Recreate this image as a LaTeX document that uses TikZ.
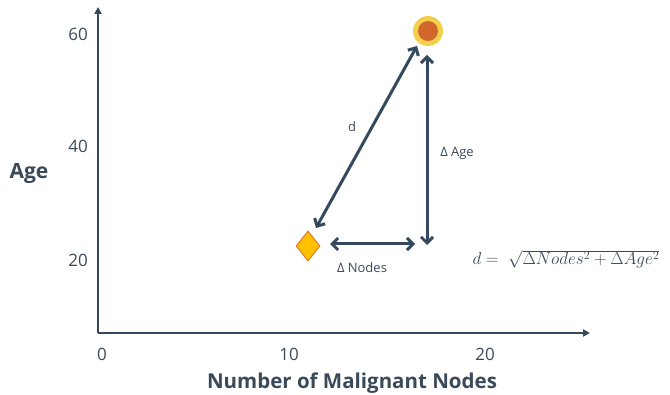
\documentclass[tikz,border=0pt]{standalone}
\usepackage{fontspec}
\setmainfont{Open Sans}
\usetikzlibrary{arrows.meta,shapes.geometric}
\definecolor{axis}{HTML}{34495E}
\definecolor{txt}{HTML}{3B4A5A}
\definecolor{ring}{HTML}{F3CF4E}
\definecolor{core}{HTML}{D2672C}
\definecolor{dfill}{HTML}{FFC000}
\definecolor{dedge}{HTML}{E0782A}
\tikzset{
  axisline/.style={draw=axis, line width=2pt, -{Triangle[length=7pt,width=7pt]}},
  dist/.style={draw=axis, line width=3pt, {Straight Barb[length=6pt,width=12pt,line width=3pt]}-{Straight Barb[length=6pt,width=12pt,line width=3pt]}},
  tick/.style={text=txt, font=\fontsize{17}{17}\selectfont, inner sep=0pt},
  lab/.style={text=txt, font=\fontsize{13}{13}\selectfont, inner sep=0pt},
  title/.style={text=txt, font=\bfseries\fontsize{21}{21}\selectfont, inner sep=0pt},
}
\begin{document}
\begin{tikzpicture}[x=1pt,y=-1pt]
\useasboundingbox (0,0) rectangle (670,395);
\coordinate (O) at (98,333);
\coordinate (ytop) at (98,7);
\coordinate (xend) at (590,333);
\draw[axisline] (O) -- (ytop);
\draw[axisline] (O) -- (xend);
\node[tick] (y60) at (78,34) {60};
\node[tick] (y40) at (78,146) {40};
\node[tick] (y20) at (78,260) {20};
\node[tick] (x0) at (102,354) {0};
\node[tick] (x10) at (289,354) {10};
\node[tick] (x20) at (485,354) {20};
\node[title] (ylab) at (29,173) {Age};
\node[title, font=\bfseries\fontsize{20.5}{20.5}\selectfont] (xlab) at (352,383) {Number of Malignant Nodes};
\node[circle, fill=ring, minimum size=30pt, inner sep=0pt] (pt1) at (428,31) {};
\node[circle, fill=core, minimum size=20pt, inner sep=0pt] at (pt1) {};
\node[diamond, fill=dfill, draw=dedge, line width=1pt, minimum width=24pt, minimum height=30pt, inner sep=0pt] (pt2) at (308,246) {};
\coordinate (dA) at (316,228);
\coordinate (dB) at (417,46);
\coordinate (aA) at (427,55);
\coordinate (aB) at (427,245);
\coordinate (nA) at (330,244);
\coordinate (nB) at (415,244);
\draw[dist] (dA) -- (dB);
\draw[dist] (aA) -- (aB);
\draw[dist] (nA) -- (nB);
\node[lab] (dl) at (352,127) {d};
\node[lab] (al) at (457,153) {Δ Age};
\node[lab] (nl) at (362,268) {Δ Nodes};
\node[text=txt, inner sep=0pt, font=\fontsize{18}{18}\selectfont] (f) at (566,259) {$d=\ \sqrt{\Delta Nodes^2+\Delta Age^2}$};
\end{tikzpicture}
\end{document}
